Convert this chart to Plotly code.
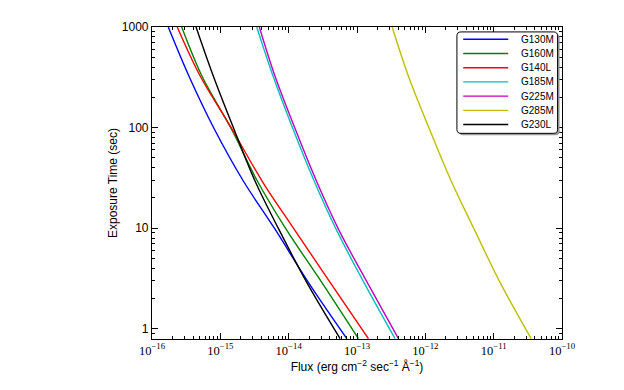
import plotly.graph_objects as go

# Exposure time levels (sec) at which each curve's flux was read
exposure_time = [1000, 324, 98, 29.5, 9.8, 2.9, 0.8]

# Flux (erg cm^-2 sec^-1 A^-1) for each grating at the exposure times above
flux_g130m = [1.73e-16, 3.48e-16, 8.09e-16, 2.17e-15, 6.32e-15, 1.94e-14, 7.10e-14]
flux_g160m = [2.72e-16, 5.40e-16, 1.44e-15, 3.48e-15, 9.16e-15, 3.05e-14, 1.05e-13]
flux_g140l = [2.34e-16, 5.09e-16, 1.47e-15, 4.08e-15, 1.20e-14, 4.04e-14, 1.47e-13]
flux_g185m = [3.41e-15, 5.92e-15, 1.15e-14, 2.36e-14, 4.94e-14, 1.26e-13, 3.61e-13]
flux_g225m = [3.72e-15, 6.32e-15, 1.24e-14, 2.55e-14, 5.35e-14, 1.41e-13, 4.04e-13]
flux_g285m = [3.27e-13, 5.66e-13, 1.14e-12, 2.39e-12, 5.18e-12, 1.24e-11, 3.54e-11]
flux_g230l = [4.41e-16, 7.91e-16, 1.57e-15, 3.22e-15, 7.16e-15, 1.84e-14, 5.66e-14]

series_names = ["G130M", "G160M", "G140L", "G185M", "G225M", "G285M", "G230L"]
series_flux = [flux_g130m, flux_g160m, flux_g140l, flux_g185m, flux_g225m, flux_g285m, flux_g230l]
series_colors = ["#0000FF", "#008000", "#FF0000", "#00BFBF", "#BF00BF", "#BFBF00", "#000000"]

fig = go.Figure()
for name, flux, color in zip(series_names, series_flux, series_colors):
    fig.add_trace(go.Scatter(
        x=flux, y=exposure_time, name=name, mode="lines",
        line=dict(color=color, width=1.4, shape="spline", smoothing=1.0),
        showlegend=False,
    ))

# ---- legend (matplotlib-style box, drawn in plot-area "paper" coordinates) ----
PW, PH = 409.7, 316.0          # plot area size in px
def px_x(dx): return dx / PW
def px_y(dy): return dy / PH

bx0, bx1 = px_x(304.7), px_x(405.3)
by0, by1 = 1 - px_y(107.7), 1 - px_y(5.0)
rx, ry = px_x(4), px_y(4)

def rounded(x0, y0, x1, y1):
    return (f"M{x0+rx},{y0} L{x1-rx},{y0} Q{x1},{y0} {x1},{y0+ry} "
            f"L{x1},{y1-ry} Q{x1},{y1} {x1-rx},{y1} L{x0+rx},{y1} "
            f"Q{x0},{y1} {x0},{y1-ry} L{x0},{y0+ry} Q{x0},{y0} {x0+rx},{y0} Z")

shapes = [
    dict(type="path", xref="paper", yref="paper",
         path=rounded(bx0 + px_x(2), by0 - px_y(2), bx1 + px_x(2), by1 - px_y(2)),
         fillcolor="#999999", line=dict(width=0), layer="above"),
    dict(type="path", xref="paper", yref="paper",
         path=rounded(bx0, by0, bx1, by1),
         fillcolor="white", line=dict(color="black", width=1), layer="above"),
]
annotations = []
for i, (name, color) in enumerate(zip(series_names, series_colors)):
    yy = 1 - px_y(12.4 + 14.4 * i)
    shapes.append(dict(type="line", xref="paper", yref="paper",
                       x0=px_x(311), x1=px_x(356), y0=yy, y1=yy,
                       line=dict(color=color, width=1.4), layer="above"))
    annotations.append(dict(text=name, xref="paper", yref="paper",
                            x=px_x(367), y=yy, xanchor="left", yanchor="middle",
                            showarrow=False, font=dict(size=10, color="black")))

axis_common = dict(
    type="log", showline=True, linecolor="black", linewidth=1.2, mirror="allticks",
    ticks="inside", ticklen=6, tickwidth=1, tickcolor="black", showgrid=False,
    zeroline=False, dtick=1,
    minor=dict(ticks="inside", ticklen=3, tickcolor="black", tickwidth=1, showgrid=False),
)

fig.update_layout(
    width=616, height=382,
    margin=dict(l=144, r=62, t=15, b=51),
    paper_bgcolor="white", plot_bgcolor="white",
    font=dict(family="Liberation Sans, Arial, sans-serif", size=12, color="black"),
    xaxis=dict(
        axis_common, range=[-16, -10], exponentformat="power",
        tickfont=dict(family="Liberation Serif, serif", size=10, color="black"),
        title=dict(text="Flux (erg cm<sup>−2</sup> sec<sup>−1</sup> Å<sup>−1</sup>)",
                   font=dict(size=12), standoff=2),
    ),
    yaxis=dict(
        axis_common, range=[-0.1, 3],
        tickfont=dict(size=12),
        title=dict(text="Exposure Time (sec)", font=dict(size=12), standoff=1),
    ),
    shapes=shapes,
    annotations=annotations,
    showlegend=False,
)

fig.write_html("out.html")
